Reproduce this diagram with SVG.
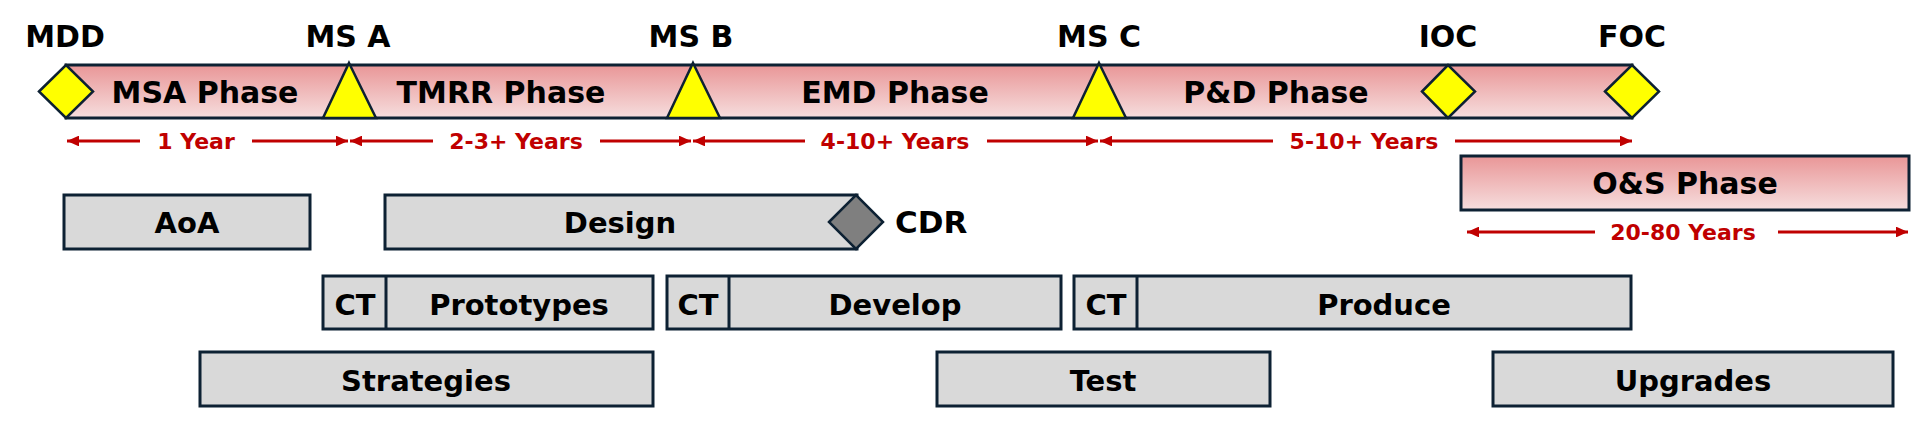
<svg xmlns="http://www.w3.org/2000/svg" width="1922" height="424" viewBox="0 0 1922 424">
<defs>
<linearGradient id="pink" x1="0" y1="0" x2="0" y2="1">
<stop offset="0" stop-color="#e99697"/>
<stop offset="1" stop-color="#f6dede"/>
</linearGradient>
<marker id="ah" viewBox="0 0 10 10" refX="10" refY="5" markerWidth="4" markerHeight="3.6" markerUnits="strokeWidth" orient="auto-start-reverse" preserveAspectRatio="none">
<path d="M0,0 L10,5 L0,10 z" fill="#c00000"/>
</marker>
<style>
text{font-family:"DejaVu Sans","Liberation Sans",sans-serif;font-weight:700;fill:#000;text-anchor:middle}
.ms{font-size:30px}
.ph{font-size:30px}
.yr{font-size:22px;fill:#c00000}
.bx{font-size:29px}
.bar{fill:url(#pink);stroke:#0d2133;stroke-width:3}
.gray{fill:#d9d9d9;stroke:#0d2133;stroke-width:3}
.yel{fill:#ffff00;stroke:#0d2133;stroke-width:2.5;stroke-linejoin:miter}
.arr{stroke:#c00000;stroke-width:3;fill:none}
</style>
</defs>

<g id="timeline">
<rect class="bar" x="66" y="65" width="1566" height="53"/>
<text class="ph" x="205" y="103">MSA Phase</text>
<text class="ph" x="501" y="103">TMRR Phase</text>
<text class="ph" x="895" y="103">EMD Phase</text>
<text class="ph" x="1276" y="103">P&amp;D Phase</text>
</g>

<g id="mdd">
<polygon class="yel" points="39,91.5 66,65 93,91.5 66,118"/>
<text class="ms" x="65" y="47">MDD</text>
</g>
<g id="msa">
<polygon class="yel" points="349,63 376,118 323,118"/>
<text class="ms" x="348" y="47">MS A</text>
</g>
<g id="msb">
<polygon class="yel" points="693,63 720,118 667,118"/>
<text class="ms" x="691" y="47">MS B</text>
</g>
<g id="msc">
<polygon class="yel" points="1099,63 1126,118 1073,118"/>
<text class="ms" x="1099" y="47">MS C</text>
</g>
<g id="ioc">
<polygon class="yel" points="1422,91.5 1448,65 1475,91.5 1448,118"/>
<text class="ms" x="1448" y="47">IOC</text>
</g>
<g id="foc">
<polygon class="yel" points="1605,91.5 1632,65 1659,91.5 1632,118"/>
<text class="ms" x="1632" y="47">FOC</text>
</g>

<g id="os-phase">
<rect class="bar" x="1461" y="156" width="448" height="54"/>
<text class="ph" x="1685" y="194">O&amp;S Phase</text>
</g>

<g id="connectors">
<line class="arr" x1="140" y1="141" x2="67" y2="141" marker-end="url(#ah)"/>
<line class="arr" x1="252" y1="141" x2="348" y2="141" marker-end="url(#ah)"/>
<line class="arr" x1="433" y1="141" x2="350" y2="141" marker-end="url(#ah)"/>
<line class="arr" x1="600" y1="141" x2="691" y2="141" marker-end="url(#ah)"/>
<line class="arr" x1="805" y1="141" x2="693" y2="141" marker-end="url(#ah)"/>
<line class="arr" x1="987" y1="141" x2="1098" y2="141" marker-end="url(#ah)"/>
<line class="arr" x1="1273" y1="141" x2="1100" y2="141" marker-end="url(#ah)"/>
<line class="arr" x1="1455" y1="141" x2="1632" y2="141" marker-end="url(#ah)"/>
<line class="arr" x1="1595" y1="232" x2="1467" y2="232" marker-end="url(#ah)"/>
<line class="arr" x1="1778" y1="232" x2="1908" y2="232" marker-end="url(#ah)"/>
<text class="yr" x="196" y="149">1 Year</text>
<text class="yr" x="516" y="149">2-3+ Years</text>
<text class="yr" x="895" y="149">4-10+ Years</text>
<text class="yr" x="1364" y="149">5-10+ Years</text>
<text class="yr" x="1683" y="240">20-80 Years</text>
</g>

<g id="aoa">
<rect class="gray" x="64" y="195" width="246" height="54"/>
<text class="bx" x="187" y="233">AoA</text>
</g>
<g id="design">
<rect class="gray" x="385" y="195" width="472" height="54"/>
<text class="bx" x="620" y="233">Design</text>
</g>
<g id="cdr">
<polygon points="829,222 856,195 883,222 856,249" fill="#7f7f7f" stroke="#0d2133" stroke-width="2.5"/>
<text x="895" y="233" style="font-size:31px;text-anchor:start">CDR</text>
</g>
<g id="prototypes">
<rect class="gray" x="323" y="276" width="330" height="53"/>
<line x1="386" y1="276" x2="386" y2="329" stroke="#0d2133" stroke-width="3"/>
<text class="bx" x="355" y="315">CT</text>
<text class="bx" x="519" y="315">Prototypes</text>
</g>
<g id="develop">
<rect class="gray" x="667" y="276" width="394" height="53"/>
<line x1="729" y1="276" x2="729" y2="329" stroke="#0d2133" stroke-width="3"/>
<text class="bx" x="698" y="315">CT</text>
<text class="bx" x="895" y="315">Develop</text>
</g>
<g id="produce">
<rect class="gray" x="1074" y="276" width="557" height="53"/>
<line x1="1137" y1="276" x2="1137" y2="329" stroke="#0d2133" stroke-width="3"/>
<text class="bx" x="1106" y="315">CT</text>
<text class="bx" x="1384" y="315">Produce</text>
</g>
<g id="strategies">
<rect class="gray" x="200" y="352" width="453" height="54"/>
<text class="bx" x="426" y="391">Strategies</text>
</g>
<g id="test">
<rect class="gray" x="937" y="352" width="333" height="54"/>
<text class="bx" x="1103" y="391">Test</text>
</g>
<g id="upgrades">
<rect class="gray" x="1493" y="352" width="400" height="54"/>
<text class="bx" x="1693" y="391">Upgrades</text>
</g>
</svg>
